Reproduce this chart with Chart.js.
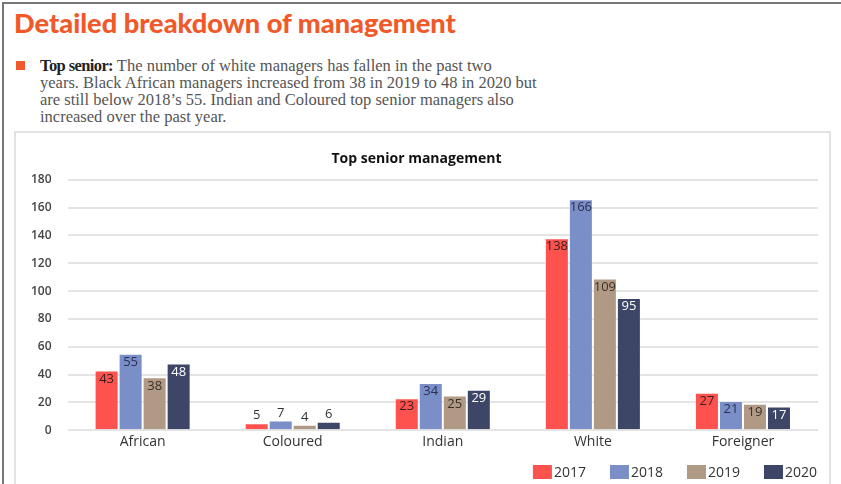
<!DOCTYPE html>
<html>
<head>
<meta charset="utf-8">
<script src="https://cdn.jsdelivr.net/npm/chart.js@4/dist/chart.umd.min.js"></script>
<style>
  html, body { margin: 0; padding: 0; background: #fff; }
  body { width: 841px; height: 484px; position: relative; overflow: hidden; }
  .frame { position: absolute; left: 2px; top: 2px; width: 900px; height: 600px;
    border-top: 2px solid #777; border-left: 2px solid #777; }
  h1 { position: absolute; left: 14px; top: 6px; margin: 0; font-family: Lato, sans-serif;
    font-weight: 900; font-size: 27.2px; color: #f1592a; letter-spacing: 0; }
  .bullet { position: absolute; left: 16px; top: 61px; width: 9px; height: 9px; background: #f1592a; }
  .para { position: absolute; left: 40px; top: 57px; margin: 0; font-family: "Liberation Serif", serif;
    font-size: 16.5px; line-height: 17px; color: #555; }
  .para b { color: #222; letter-spacing: -0.6px; }
  .box { position: absolute; left: 14px; top: 131px; width: 813px; height: 400px;
    border: 2px solid #e2e2e2; }
  .chart-wrap { position: absolute; left: 15px; top: 133px; width: 812px; height: 351px; }
</style>
</head>
<body>
<div class="frame"></div>
<h1>Detailed breakdown of management</h1>
<div class="bullet"></div>
<p class="para"><b>Top senior:</b> The number of white managers has fallen in the past two<br>years. Black African managers increased from 38 in 2019 to 48 in 2020 but<br>are still below 2018’s 55. Indian and Coloured top senior managers also<br>increased over the past year.</p>
<div class="box"></div>
<div class="chart-wrap"><canvas id="myChart"></canvas></div>
<script>
const categories = ['African', 'Coloured', 'Indian', 'White', 'Foreigner']
const years = ['2017', '2018', '2019', '2020']
const values2017 = [43, 5, 23, 138, 27]
const values2018 = [55, 7, 34, 166, 21]
const values2019 = [38, 4, 25, 109, 19]
const values2020 = [48, 6, 29, 95, 17]
const yTicks = [0, 20, 40, 60, 80, 100, 120, 140, 160, 180]

const colors = ['#fd524d', '#7a8ec8', '#b19a85', '#3e4668']
const labelColors = ['#3a2020', '#2a3050', '#3a3028', '#ffffff']
const font = '"Open Sans", sans-serif'

// draw the value of each bar at its top (above it when the bar is too short)
const barLabels = {
  id: 'barLabels',
  afterDatasetsDraw (chart) {
    const ctx = chart.ctx
    ctx.save()
    ctx.font = '13px ' + font
    ctx.textAlign = 'center'
    chart.data.datasets.forEach((ds, i) => {
      const meta = chart.getDatasetMeta(i)
      meta.data.forEach((bar, j) => {
        const h = bar.base - bar.y
        if (h > 18) {
          ctx.fillStyle = labelColors[i]
          ctx.textBaseline = 'top'
          ctx.fillText(ds.data[j], bar.x, bar.y + 2)
        } else {
          ctx.fillStyle = '#333'
          ctx.textBaseline = 'bottom'
          ctx.fillText(ds.data[j], bar.x, bar.y - 1)
        }
      })
    })
    ctx.restore()
  }
}

// legend drawn by hand so the box/text gap can be tight like the original
const tightLegend = {
  id: 'tightLegend',
  afterDraw (chart) {
    const ctx = chart.ctx
    ctx.save()
    ctx.font = '14px ' + font
    ctx.textBaseline = 'middle'
    const boxW = 19
    const boxH = 14
    const gap = 2
    const spacing = 24
    const items = chart.data.datasets.map(ds => ({ label: ds.label, color: ds.backgroundColor, w: ctx.measureText(ds.label).width }))
    const total = items.reduce((s, it) => s + boxW + gap + it.w, 0) + spacing * (items.length - 1)
    let x = chart.chartArea.right - 1 - total
    const y = chart.height - 12
    items.forEach(it => {
      ctx.fillStyle = it.color
      ctx.fillRect(x, y - boxH / 2, boxW, boxH)
      ctx.fillStyle = '#333'
      ctx.fillText(it.label, x + boxW + gap, y + 1)
      x += boxW + gap + it.w + spacing
    })
    ctx.restore()
  }
}

const seriesValues = [values2017, values2018, values2019, values2020]

new Chart(document.getElementById('myChart'), {
  type: 'bar',
  data: {
    labels: categories,
    datasets: years.map((y, i) => ({
      label: y,
      data: seriesValues[i],
      backgroundColor: colors[i],
      borderColor: 'rgba(255,255,255,0.35)',
      borderWidth: 1,
      categoryPercentage: 0.64,
      barPercentage: 1.0
    }))
  },
  options: {
    responsive: true,
    maintainAspectRatio: false,
    animation: false,
    layout: { padding: { left: 0, right: 9, top: 8, bottom: 31 } },
    plugins: {
      title: {
        display: true,
        text: 'Top senior management',
        color: '#111',
        font: { family: font, size: 14, weight: 'bold' },
        padding: { top: 10, bottom: 12 }
      },
      legend: { display: false },
      tooltip: { enabled: false }
    },
    scales: {
      x: {
        grid: { display: false, drawTicks: false },
        border: { display: false },
        ticks: { color: '#333', font: { family: font, size: 14 }, padding: 3 }
      },
      y: {
        min: 0,
        max: 180,
        afterBuildTicks: scale => { scale.ticks = yTicks.map(v => ({ value: v })) },
        border: { display: false },
        grid: { color: '#e4e4e4', lineWidth: 2, drawTicks: false },
        ticks: {
          color: '#444',
          padding: 16,
          font: { family: font, size: 12, weight: '600' }
        }
      }
    }
  },
  plugins: [barLabels, tightLegend]
})
</script>
</body>
</html>
